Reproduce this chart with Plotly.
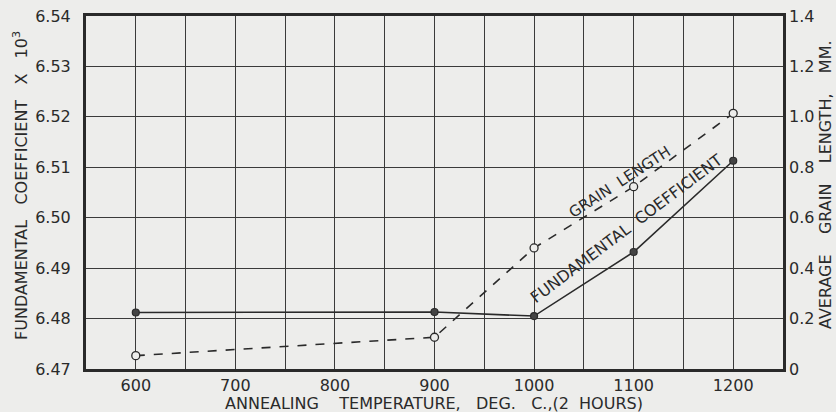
import plotly.graph_objects as go

temps = [600, 900, 1000, 1100, 1200]
fund_coef = [6.4812, 6.4813, 6.4805, 6.4932, 6.5113]
grain_len = [0.053, 0.126, 0.48, 0.723, 1.014]

x_grid = list(range(550, 1251, 50))
x_text = [str(v) if v % 100 == 0 and 600 <= v <= 1200 else "" for v in x_grid]
y_left_ticks = [6.47, 6.48, 6.49, 6.50, 6.51, 6.52, 6.53, 6.54]
y_left_text = ["6.47", "6.48", "6.49", "6.50", "6.51", "6.52", "6.53", "6.54"]
y_right_ticks = [0, 0.2, 0.4, 0.6, 0.8, 1.0, 1.2, 1.4]
y_right_text = ["0", "0.2", "0.4", "0.6", "0.8", "1.0", "1.2", "1.4"]

ink = "#2a2a2a"
paper = "#ededeb"
font_fam = "DejaVu Sans"
W, H = 836, 412
L, R, T, B = 86, 53, 16, 43
pw, ph = W - L - R, H - T - B

def px_x(px):
    return (px - L) / pw

def px_y(py):
    return (H - B - py) / ph

sp = "\u00a0"

fig = go.Figure()
fig.add_trace(go.Scatter(
    x=temps, y=fund_coef, mode="lines+markers", name="Fundamental coefficient",
    line=dict(color=ink, width=1.6),
    marker=dict(symbol="circle", size=7, color="#444", line=dict(color=ink, width=1.2)),
    yaxis="y"))
fig.add_trace(go.Scatter(
    x=temps, y=grain_len, mode="lines+markers", name="Grain length",
    line=dict(color=ink, width=1.6, dash="dash"),
    marker=dict(symbol="circle", size=8, color=paper, line=dict(color=ink, width=1.3)),
    yaxis="y2"))

def title_ann(px, py, text, angle=0, size=15):
    return dict(x=px_x(px), y=px_y(py), xref="paper", yref="paper", text=text,
                showarrow=False, textangle=angle, xanchor="center", yanchor="middle",
                font=dict(size=size, family=font_fam, color=ink))

fig.update_layout(
    width=W, height=H,
    margin=dict(l=L, r=R, t=T, b=B),
    paper_bgcolor=paper, plot_bgcolor=paper,
    showlegend=False,
    font=dict(family=font_fam, color=ink),
    xaxis=dict(
        range=[550, 1250], tickvals=x_grid, ticktext=x_text, automargin=False,
        showgrid=True, gridcolor="#3a3a3a", gridwidth=1.3,
        zeroline=False, ticks="", showline=True, linecolor=ink, linewidth=3, mirror=True,
        tickfont=dict(size=16, family=font_fam), ticklabelstandoff=0,
    ),
    yaxis=dict(
        range=[6.47, 6.54], tickvals=y_left_ticks, ticktext=y_left_text, automargin=False,
        showgrid=True, gridcolor="#3a3a3a", gridwidth=1.3,
        zeroline=False, ticks="", showline=True, linecolor=ink, linewidth=3, mirror=True,
        tickfont=dict(size=16, family=font_fam), ticklabelstandoff=9,
    ),
    yaxis2=dict(
        range=[0, 1.4], tickvals=y_right_ticks, ticktext=y_right_text, automargin=False,
        overlaying="y", side="right", showgrid=False, zeroline=False, ticks="",
        tickfont=dict(size=16, family=font_fam), ticklabelstandoff=5,
    ),
    annotations=[
        dict(x=1086, y=6.5071, xref="x", yref="y", text="GRAIN" + sp * 2 + "LENGTH",
             showarrow=False, textangle=-33,
             font=dict(size=15, family=font_fam, color=ink)),
        dict(x=1093, y=6.4978, xref="x", yref="y", text="FUNDAMENTAL" + sp * 2 + "COEFFICIENT",
             showarrow=False, textangle=-37,
             font=dict(size=16, family=font_fam, color=ink)),
        title_ann(434, 403, "ANNEALING" + sp * 4 + "TEMPERATURE," + sp * 3 + "DEG." + sp * 3
                  + "C.,(2" + sp * 2 + "HOURS)", 0, 16),
        title_ann(21, 186, "FUNDAMENTAL" + sp * 3 + "COEFFICIENT" + sp * 3 + "X" + sp * 3
                  + "10<sup>3</sup>", -90, 16),
        title_ann(825, 185, "AVERAGE" + sp * 4 + "GRAIN" + sp * 4 + "LENGTH," + sp * 4 + "MM.", -90, 16),
    ],
)

fig.write_html("out.html", config={"displayModeBar": False},
               post_script="document.body.style.margin='0px';document.body.style.overflow='hidden';")
